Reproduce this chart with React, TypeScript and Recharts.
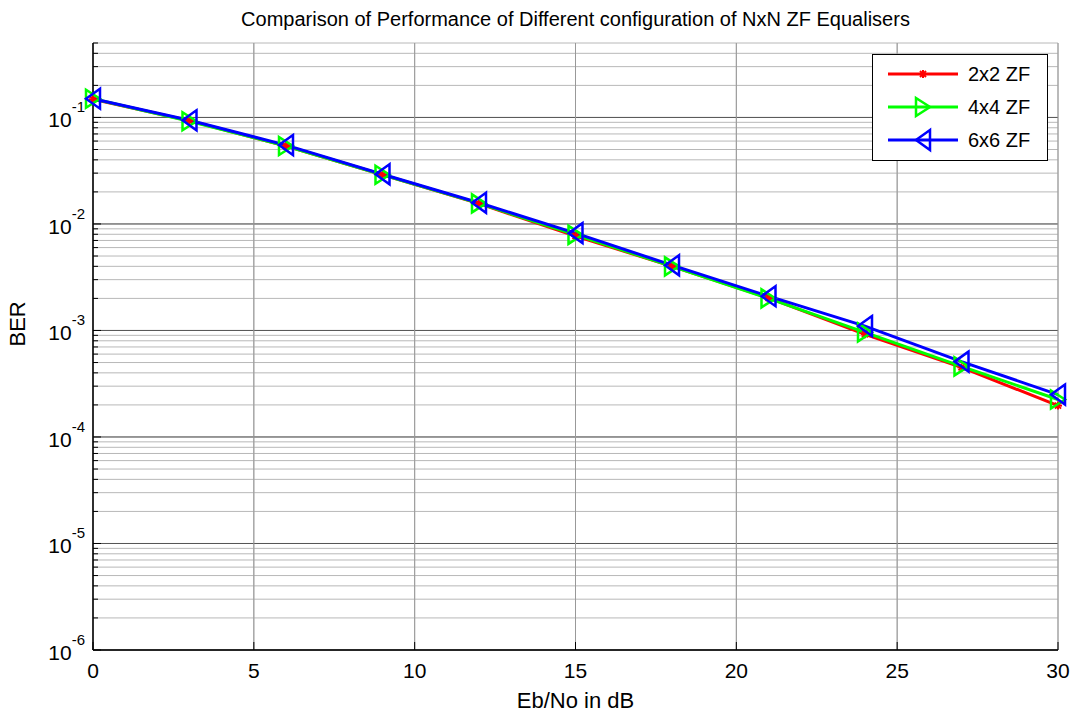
import { CartesianGrid, Line, LineChart, ReferenceLine, XAxis, YAxis } from 'recharts'

const ebno = [0, 3, 6, 9, 12, 15, 18, 21, 24, 27, 30]
const ber2x2 = [0.148, 0.093, 0.054, 0.029, 0.0155, 0.0077, 0.004, 0.00202, 0.00092, 0.00045, 0.000197]
const ber4x4 = [0.15, 0.092, 0.054, 0.029, 0.0156, 0.0079, 0.004, 0.002, 0.00096, 0.00046, 0.000225]
const ber6x6 = [0.15, 0.094, 0.055, 0.0293, 0.0158, 0.0082, 0.0041, 0.0021, 0.0011, 0.00051, 0.00025]

const xTicks = [0, 5, 10, 15, 20, 25, 30]
const decades = [1e-6, 1e-5, 1e-4, 1e-3, 1e-2, 1e-1]
const decadeLabels = ['-6', '-5', '-4', '-3', '-2', '-1']
const minorSteps = [2, 3, 4, 5, 6, 7, 8, 9]

const yTicks: number[] = []
decades.forEach((d) => {
  yTicks.push(d)
  minorSteps.forEach((m) => {
    const v = d * m
    if (v <= 0.5 + 1e-9) yTicks.push(Number(v.toPrecision(3)))
  })
})

const data = ebno.map((x, i) => ({
  x,
  r: ber2x2[i],
  g: ber4x4[i],
  b: ber6x6[i],
}))

const FONT = 'Liberation Sans, Arial, sans-serif'

const isDecade = (v: number) => decades.some((d) => Math.abs(d - v) / d < 1e-6)

const LeftTick = (props: any) => {
  const { x, y, payload } = props
  const v = payload.value
  const major = isDecade(v)
  const idx = decades.findIndex((d) => Math.abs(d - v) / d < 1e-6)
  return (
    <g>
      <line x1={x} x2={x + (major ? 8 : 5)} y1={y} y2={y} stroke='#000' />
      {major && (
        <text x={x - 8} y={y + 10} textAnchor='end' fontFamily={FONT} fontSize={21} fill='#000'>
          <tspan>10</tspan>
          <tspan dy={-15} fontSize={15}>{decadeLabels[idx]}</tspan>
        </text>
      )}
    </g>
  )
}

const RightTick = (props: any) => {
  const { x, y, payload } = props
  const major = isDecade(payload.value)
  return <line x1={x} x2={x - (major ? 8 : 5)} y1={y} y2={y} stroke='#000' />
}

const BottomTick = (props: any) => {
  const { x, y, payload } = props
  return (
    <g>
      <line x1={x} x2={x} y1={y} y2={y - 8} stroke='#000' />
      <text x={x} y={y + 28} textAnchor='middle' fontFamily={FONT} fontSize={21} fill='#000'>
        {payload.value}
      </text>
    </g>
  )
}

const TopTick = (props: any) => {
  const { x, y } = props
  return <line x1={x} x2={x} y1={y} y2={y + 8} stroke='#000' />
}

const Star = ({ cx, cy, color }: { cx: number; cy: number; color: string }) => (
  <g stroke={color} strokeWidth={2}>
    <line x1={cx - 4} x2={cx + 4} y1={cy} y2={cy} />
    <line x1={cx} x2={cx} y1={cy - 4} y2={cy + 4} />
    <line x1={cx - 3} x2={cx + 3} y1={cy - 3} y2={cy + 3} />
    <line x1={cx - 3} x2={cx + 3} y1={cy + 3} y2={cy - 3} />
  </g>
)

const TriRight = ({ cx, cy, color }: { cx: number; cy: number; color: string }) => (
  <polygon
    points={`${cx - 7},${cy - 9} ${cx + 7},${cy} ${cx - 7},${cy + 9}`}
    fill='none'
    stroke={color}
    strokeWidth={2.5}
  />
)

const TriLeft = ({ cx, cy, color }: { cx: number; cy: number; color: string }) => (
  <polygon
    points={`${cx + 7},${cy - 10} ${cx - 7},${cy} ${cx + 7},${cy + 10}`}
    fill='none'
    stroke={color}
    strokeWidth={2.5}
  />
)

const series = [
  { key: 'r', name: '2x2 ZF', color: '#ff0000', Marker: Star },
  { key: 'g', name: '4x4 ZF', color: '#00ff00', Marker: TriRight },
  { key: 'b', name: '6x6 ZF', color: '#0000ff', Marker: TriLeft },
]

const LegendBox = () => (
  <svg
    width={177}
    height={108}
    style={{ position: 'absolute', left: 872, top: 54 }}>
    <rect x={0.5} y={0.5} width={175} height={106} fill='#fff' stroke='#000' />
    {series.map((s, i) => {
      const cy = 20 + i * 33
      const M = s.Marker
      return (
        <g key={s.key}>
          <line x1={16} x2={86} y1={cy} y2={cy} stroke={s.color} strokeWidth={3} />
          <M cx={51} cy={cy} color={s.color} />
          <text x={96} y={cy + 7} fontFamily={FONT} fontSize={20} fill='#000'>
            {s.name}
          </text>
        </g>
      )
    })}
  </svg>
)

export default function App() {
  return (
    <div style={{ position: 'absolute', left: 0, top: 0, width: 1070, height: 715, background: '#fff' }}>
      <div
        style={{
          position: 'absolute',
          left: 93,
          width: 965,
          top: 8,
          textAlign: 'center',
          fontFamily: FONT,
          fontSize: 20,
          color: '#000',
        }}>
        Comparison of Performance of Different configuration of NxN ZF Equalisers
      </div>
      <LineChart
        width={1070}
        height={715}
        data={data}
        margin={{ top: 43, right: 12, bottom: 0, left: 0 }}>
        <CartesianGrid
          yAxisId='left'
          stroke='#b8b8b8'
          horizontalValues={yTicks}
          verticalValues={xTicks}
        />
        {decades.map((d) => (
          <ReferenceLine key={d} y={d} stroke='#555' yAxisId='left' />
        ))}
        {xTicks.map((t) => (
          <ReferenceLine key={`v${t}`} x={t} stroke='#999' yAxisId='left' />
        ))}
        <XAxis
          dataKey='x'
          type='number'
          domain={[0, 30]}
          ticks={xTicks}
          interval={0}
          height={65}
          tickSize={0}
          tickMargin={0}
          tick={<BottomTick />}
          axisLine={{ stroke: '#000', strokeWidth: 1.5 }}
          tickLine={false}
          label={{ value: 'Eb/No in dB', position: 'insideBottom', offset: 0, dy: -7, fontFamily: FONT, fontSize: 22, fill: '#000' }}
        />
        <XAxis
          xAxisId='top'
          dataKey='x'
          type='number'
          orientation='top'
          domain={[0, 30]}
          ticks={xTicks}
          interval={0}
          height={0}
          tickSize={0}
          tickMargin={0}
          tick={<TopTick />}
          axisLine={{ stroke: '#000', strokeWidth: 1.5 }}
          tickLine={false}
        />
        <YAxis
          yAxisId='left'
          scale='log'
          domain={[1e-6, 0.5]}
          allowDataOverflow
          ticks={yTicks}
          interval={0}
          width={93}
          tickSize={0}
          tickMargin={0}
          tick={<LeftTick />}
          axisLine={{ stroke: '#000', strokeWidth: 1.5 }}
          tickLine={false}
          label={{ value: 'BER', angle: -90, position: 'insideLeft', offset: 0, dx: 17, dy: 0, fontFamily: FONT, fontSize: 22, fill: '#000' }}
        />
        <YAxis
          yAxisId='right'
          orientation='right'
          scale='log'
          domain={[1e-6, 0.5]}
          allowDataOverflow
          ticks={yTicks}
          interval={0}
          width={0}
          tickSize={0}
          tickMargin={0}
          tick={<RightTick />}
          axisLine={{ stroke: '#000', strokeWidth: 1.5 }}
          tickLine={false}
        />
        {series.map((s) => {
          const M = s.Marker
          return (
            <Line
              key={s.key}
              yAxisId='left'
              dataKey={s.key}
              name={s.name}
              stroke={s.color}
              strokeWidth={3}
              isAnimationActive={false}
              dot={(p: any) => <M key={`${s.key}-${p.index}`} cx={p.cx} cy={p.cy} color={s.color} />}
              activeDot={false}
            />
          )
        })}
      </LineChart>
      <LegendBox />
    </div>
  )
}
